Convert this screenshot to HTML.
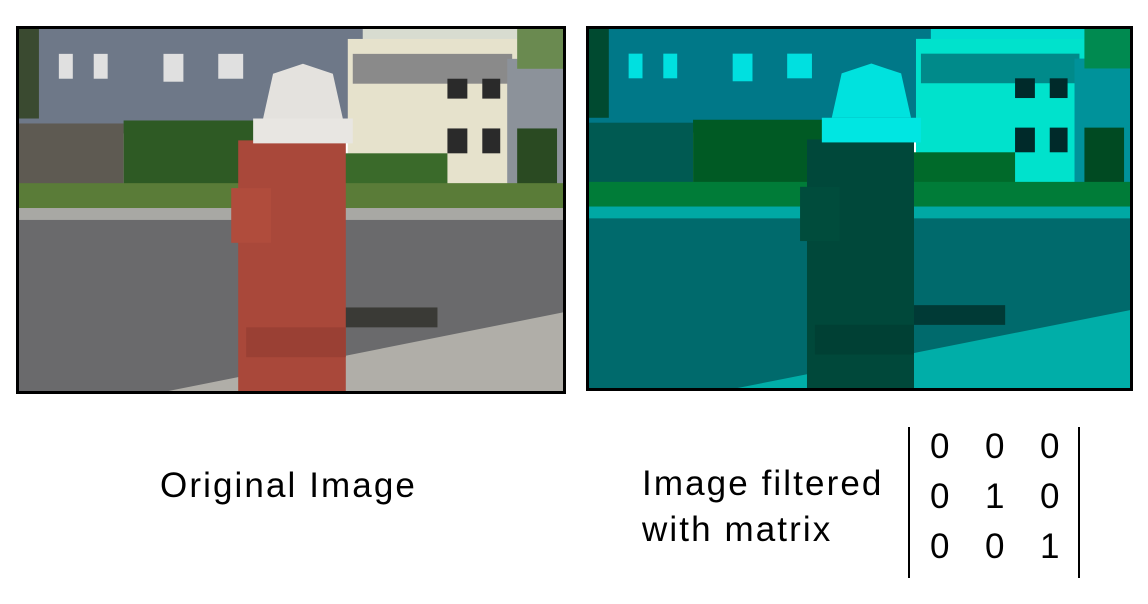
<!DOCTYPE html>
<html><head><meta charset="utf-8"><style>
body{margin:0;width:1148px;height:604px;background:#fff;overflow:hidden;position:relative;font-family:"Liberation Sans",sans-serif}
.t{position:absolute;color:#000;font-size:35px;line-height:1}
.cap{letter-spacing:2.1px}
.frame{position:absolute;border:3px solid #000;overflow:hidden;box-sizing:border-box}
.bar{position:absolute;width:2px;background:#000;top:427px;height:151px}
</style></head><body>
<div class="frame" style="left:16px;top:26px;width:550px;height:368px"><svg id="s1" width="544" height="362"></svg></div>
<div class="frame" style="left:586px;top:26px;width:547px;height:365px"><svg id="s2" width="541" height="359"></svg></div>
<div class="t cap" style="left:160px;top:468px">Original Image</div>
<div class="t cap" style="left:642px;top:461px;line-height:46px">Image filtered<br>with matrix</div>
<div class="bar" style="left:908px"></div>
<div class="bar" style="left:1078px"></div>
<div id="mat"></div>
<script>
const matrix=[[0,0,0],[0,1,0],[0,0,1]];
const mat=document.getElementById('mat');
matrix.forEach((row,i)=>row.forEach((v,j)=>{
 const d=document.createElement('div');
 d.className='t';
 
 
 d.style.left=(940+55*j-10)+'px';d.style.top=(429+50*i)+'px';
 d.textContent=v;mat.appendChild(d);
}));
const scene=[
 ['rect',0,0,546,60,'#d8dcd0'],
 ['rect',0,0,345,105,'#6e7888'],
 ['rect',0,0,20,90,'#3a4a30'],
 ['rect',330,10,170,170,'#e6e2cc'],
 ['rect',335,25,160,30,'#8a8a8a'],
 ['rect',490,30,56,140,'#8c929a'],
 ['rect',500,0,46,40,'#6a8a50'],
 ['rect',0,95,105,62,'#5e5a52'],
 ['rect',105,92,140,70,'#2e5a24'],
 ['rect',310,125,120,45,'#3a6a2a'],
 ['rect',500,100,40,70,'#2a4a22'],
 ['rect',0,155,546,30,'#5a7c38'],
 ['rect',0,180,546,14,'#a8a8a4'],
 ['rect',0,192,546,172,'#6a6a6c'],
 ['poly','150,364 546,285 546,364','#b0aea8'],
 ['rect',320,280,100,20,'#3a3a36'],
 ['rect',220,112,108,252,'#a9483a'],
 ['rect',228,300,100,30,'#9a4034'],
 ['rect',213,160,40,55,'#b04c3c'],
 ['rect',235,90,100,25,'#e8e6e2'],
 ['poly','245,90 255,45 285,35 315,45 325,90','#e4e2de'],
 ['rect',40,25,14,25,'#e0e0e0'],['rect',75,25,14,25,'#e0e0e0'],['rect',145,25,20,28,'#e0e0e0'],['rect',200,25,25,25,'#e0e0e0'],
 ['rect',430,50,20,20,'#2a2a2a'],['rect',465,50,18,20,'#2a2a2a'],['rect',430,100,20,25,'#2a2a2a'],['rect',465,100,18,25,'#2a2a2a']
];
function hex(c,f){let r=parseInt(c.substr(1,2),16),g=parseInt(c.substr(3,2),16),b=parseInt(c.substr(5,2),16);if(f){r=0;}return `rgb(${r},${g},${b})`;}
function draw(id,f,sx,sy){
 const s=document.getElementById(id),ns='http://www.w3.org/2000/svg';
 const g=document.createElementNS(ns,'g');g.setAttribute('transform',`scale(${sx},${sy})`);s.appendChild(g);
 scene.forEach(e=>{let el;
  if(e[0]=='rect'){el=document.createElementNS(ns,'rect');el.setAttribute('x',e[1]);el.setAttribute('y',e[2]);el.setAttribute('width',e[3]);el.setAttribute('height',e[4]);el.setAttribute('fill',hex(e[5],f));}
  else{el=document.createElementNS(ns,'polygon');el.setAttribute('points',e[1]);el.setAttribute('fill',hex(e[2],f));}
  
  
  g.appendChild(el);});
}
draw('s1',false,544/546,362/364);
draw('s2',true,541/546,359/364);
</script>
</body></html>
